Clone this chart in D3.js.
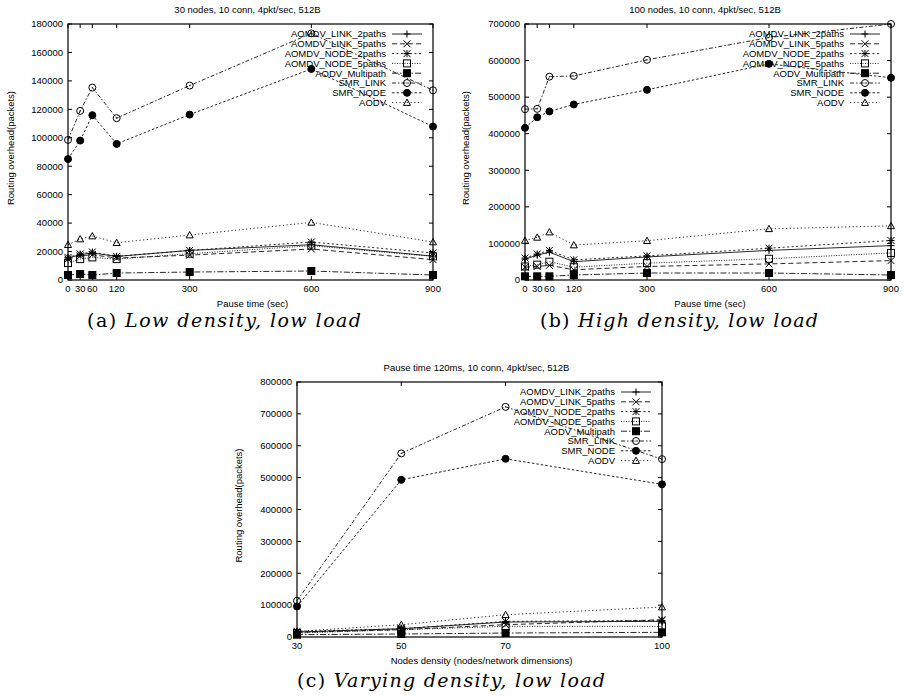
<!DOCTYPE html>
<html>
<head>
<meta charset="utf-8">
<script src="https://cdn.jsdelivr.net/npm/d3@7"></script>
<style>
  body { margin: 0; background: #fff; }
  svg { display: block; }
  text { font-family: "Liberation Sans", Arial, sans-serif; }
</style>
</head>
<body>
<svg id="chart" width="906" height="697"></svg>
<script>
// categories
const seriesNames = ["AOMDV_LINK_2paths", "AOMDV_LINK_5paths", "AOMDV_NODE_2paths", "AOMDV_NODE_5paths",
  "AODV_Multipath", "SMR_LINK", "SMR_NODE", "AODV"]
const pauseTimes = [0, 30, 60, 120, 300, 600, 900]
const densities = [30, 50, 70, 100]

// values, one row per series (same order as seriesNames)
const lowDensity = [
  [15400, 17800, 19000, 16600, 20800, 24800, 16800],
  [14700, 17000, 17800, 15400, 17500, 21800, 14300],
  [15900, 18300, 19700, 16600, 20800, 26700, 19000],
  [11900, 14700, 15900, 14700, 18500, 24100, 16600],
  [3500, 4200, 3500, 4900, 5600, 6300, 3500],
  [98500, 118900, 135300, 113800, 136700, 173400, 133400],
  [85000, 98000, 115900, 95700, 116300, 148400, 107900],
  [24800, 28800, 30900, 26200, 31600, 40500, 26700]
]
const highDensity = [
  [57000, 68000, 76000, 50000, 63000, 81000, 94000],
  [35000, 37000, 40000, 28000, 37000, 44000, 53000],
  [60000, 71000, 81000, 55000, 66000, 87000, 108000],
  [37000, 42000, 50000, 35000, 46000, 58000, 74000],
  [10000, 10000, 10000, 13700, 19100, 19100, 13700],
  [467000, 468000, 556000, 558000, 602000, 663000, 700000],
  [416000, 445000, 461000, 480000, 520000, 591000, 553000],
  [108000, 116500, 131000, 95600, 107400, 140000, 148000]
]
const varyingDensity = [
  [15600, 26000, 47000, 49000],
  [14600, 23000, 38600, 54200],
  [17700, 26000, 49000, 52000],
  [12500, 23000, 33400, 33400],
  [7300, 9400, 12500, 14600],
  [113700, 576000, 722000, 558000],
  [96000, 493000, 559000, 479000],
  [17700, 38600, 69900, 93900]
]

// gnuplot-like line types and point types
const dashes = [null, "5,3", "2,2.5", "1,1.5", "6,2,1.5,2", "4,2,1.5,2", "2.5,2", "1.2,2.5"]
const markers = ["plus", "cross", "star", "box", "boxf", "circ", "circf", "tri"]

const svg = d3.select("#chart")

function drawMarker(g, type, x, y) {
  const s = 3.5
  const seg = d => g.append("path").attr("d", d).attr("stroke", "#000").attr("stroke-width", 1).attr("fill", "none")
  if (type == "plus" || type == "star") seg(`M${x - s},${y}H${x + s}M${x},${y - s}V${y + s}`)
  if (type == "cross" || type == "star") seg(`M${x - s},${y - s}L${x + s},${y + s}M${x - s},${y + s}L${x + s},${y - s}`)
  if (type == "box" || type == "boxf") {
    g.append("rect").attr("x", x - s).attr("y", y - s).attr("width", 2 * s).attr("height", 2 * s)
      .attr("stroke", "#000").attr("stroke-width", 1).attr("fill", type == "boxf" ? "#000" : "none")
  }
  if (type == "circ" || type == "circf") {
    g.append("circle").attr("cx", x).attr("cy", y).attr("r", s)
      .attr("stroke", "#000").attr("stroke-width", 1).attr("fill", type == "circf" ? "#000" : "none")
    if (type == "circ") g.append("circle").attr("cx", x).attr("cy", y).attr("r", 0.6).attr("fill", "#000")
  }
  if (type == "tri") seg(`M${x - s},${y + s * 0.8}L${x},${y - s}L${x + s},${y + s * 0.8}Z`)
}

function drawPanel(p) {
  const g = svg.append("g")
  const x = d3.scaleLinear().domain(p.xDomain).range([p.left, p.right])
  const y = d3.scaleLinear().domain(p.yDomain).range([p.bottom, p.top])
  const tick = 4

  // frame
  g.append("rect").attr("x", p.left).attr("y", p.top)
    .attr("width", p.right - p.left).attr("height", p.bottom - p.top)
    .attr("fill", "none").attr("stroke", "#000").attr("stroke-width", 1.2)

  // y ticks (both sides, inward)
  p.yTicks.forEach(v => {
    g.append("path").attr("d", `M${p.left},${y(v)}h${tick}M${p.right},${y(v)}h${-tick}`)
      .attr("stroke", "#000").attr("stroke-width", 1)
    g.append("text").attr("x", p.left - 5).attr("y", y(v)).attr("dy", "0.35em")
      .attr("text-anchor", "end").attr("font-size", "9.5px").text(v)
  })
  // x ticks (top and bottom, inward)
  p.xTicks.forEach(v => {
    g.append("path").attr("d", `M${x(v)},${p.bottom}v${-tick}M${x(v)},${p.top}v${tick}`)
      .attr("stroke", "#000").attr("stroke-width", 1)
    g.append("text").attr("x", x(v)).attr("y", p.bottom + 9).attr("dy", "0.35em")
      .attr("text-anchor", "middle").attr("font-size", "9.5px").text(v)
  })

  // titles
  g.append("text").attr("x", (p.left + p.right) / 2 - 3).attr("y", p.top - 14).attr("dy", "0.35em")
    .attr("text-anchor", "middle").attr("font-size", "9.5px").text(p.title)
  g.append("text").attr("x", (p.left + p.right) / 2 + 2).attr("y", p.bottom + 24).attr("dy", "0.35em")
    .attr("text-anchor", "middle").attr("font-size", "9.5px").text(p.xLabel)
  g.append("text")
    .attr("transform", `translate(${p.yLabelX},${(p.top + p.bottom) / 2 - 4})rotate(-90)`)
    .attr("dy", "0.35em").attr("text-anchor", "middle").attr("font-size", "9.5px")
    .text("Routing overhead(packets)")

  // series
  const line = d3.line().x(d => x(d[0])).y(d => y(d[1]))
  p.values.forEach((vals, i) => {
    const pts = vals.map((v, j) => [p.xs[j], v])
    g.append("path").attr("d", line(pts)).attr("fill", "none")
      .attr("stroke", "#111").attr("stroke-width", 0.9)
      .attr("stroke-dasharray", dashes[i])
    pts.forEach(d => drawMarker(g, markers[i], x(d[0]), y(d[1])))
  })

  // legend
  seriesNames.forEach((name, i) => {
    const ly = p.top + 10 + i * 9.8
    g.append("text").attr("x", p.right - 47).attr("y", ly).attr("dy", "0.35em")
      .attr("text-anchor", "end").attr("font-size", "9.5px").text(name)
    g.append("path").attr("d", `M${p.right - 41},${ly}H${p.right - 11}`)
      .attr("stroke", "#111").attr("stroke-width", 0.9).attr("stroke-dasharray", dashes[i])
    drawMarker(g, markers[i], p.right - 26, ly)
  })

  // caption
  const cap = g.append("text").attr("x", p.capX).attr("y", p.capY)
    .attr("text-anchor", "middle").attr("font-size", "19px")
    .attr("textLength", p.capW).attr("lengthAdjust", "spacing")
    .style("font-family", "'DejaVu Serif', serif")
  cap.append("tspan").text(p.capTag + " ")
  cap.append("tspan").style("font-style", "italic").text(p.caption)
}

drawPanel({
  left: 68, right: 433, top: 24, bottom: 280,
  xDomain: [0, 900], yDomain: [0, 180000],
  xs: pauseTimes, xTicks: pauseTimes, yTicks: d3.range(0, 180001, 20000),
  values: lowDensity,
  title: "30 nodes, 10 conn, 4pkt/sec, 512B", xLabel: "Pause time (sec)", yLabelX: 11,
  capX: 224, capY: 327, capW: 274, capTag: "(a)", caption: "Low density, low load"
})

drawPanel({
  left: 525, right: 891, top: 24, bottom: 280,
  xDomain: [0, 900], yDomain: [0, 700000],
  xs: pauseTimes, xTicks: pauseTimes, yTicks: d3.range(0, 700001, 100000),
  values: highDensity,
  title: "100 nodes, 10 conn, 4pkt/sec, 512B", xLabel: "Pause time (sec)", yLabelX: 466,
  capX: 679, capY: 327, capW: 278, capTag: "(b)", caption: "High density, low load"
})

drawPanel({
  left: 297, right: 662, top: 382, bottom: 637,
  xDomain: [30, 100], yDomain: [0, 800000],
  xs: densities, xTicks: densities, yTicks: d3.range(0, 800001, 100000),
  values: varyingDensity,
  title: "Pause time 120ms, 10 conn, 4pkt/sec, 512B", xLabel: "Nodes density (nodes/network dimensions)", yLabelX: 239,
  capX: 451, capY: 687, capW: 308, capTag: "(c)", caption: "Varying density, low load"
})
</script>
</body>
</html>
